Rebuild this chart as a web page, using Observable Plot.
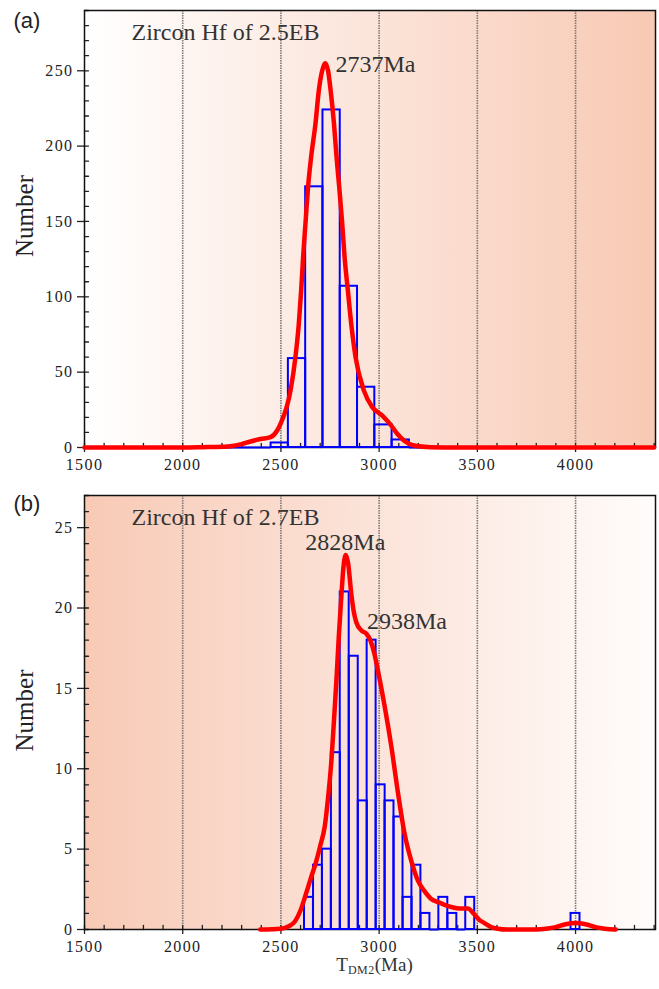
<!DOCTYPE html>
<html><head><meta charset="utf-8">
<script src="https://cdn.jsdelivr.net/npm/d3@7"></script>
<script src="https://cdn.jsdelivr.net/npm/@observablehq/plot@0.6"></script>
<style>
body{margin:0;background:#fff;}
#wrap{position:relative;width:659px;height:989px;overflow:hidden;background:#fff;}
#wrap svg{display:block;position:absolute;left:0;}
g[aria-label="x-axis tick label"] text, g[aria-label="y-axis tick label"] text{letter-spacing:1.4px;}
g[aria-label="anno"] text{letter-spacing:0.6px;}
g[aria-label="ylab"] text{letter-spacing:2px;}
#xlab{position:absolute;left:84px;width:571px;top:954px;padding-left:10px;box-sizing:border-box;text-align:center;
  font-family:"Liberation Serif",serif;font-size:19px;line-height:22px;color:#333;}
#xlab sub{font-size:12px;vertical-align:baseline;position:relative;top:3px;letter-spacing:0.5px;}
</style>
</head><body>
<div id="wrap"><div id="xlab">T<sub>DM2</sub>(Ma)</div></div>
<script>
// ---------- data ----------
const xTicks = [1500, 2000, 2500, 3000, 3500, 4000];
const gridLines = [2000, 2500, 3000, 3500, 4000];

// Panel (a): Zircon Hf of 2.5EB
const titleA = "Zircon Hf of 2.5EB";
const binWidthA = 88;
const binLoA = [2186, 2274, 2362, 2450, 2538, 2626, 2714, 2802, 2890, 2978, 3066, 3154];
const countA = [0, 0, 0, 3, 59, 173, 224, 107, 40, 15, 5, 0];
const curveAx = [1500, 1800, 2000, 2100, 2200, 2243, 2300, 2345, 2396, 2447, 2481, 2498, 2549, 2574, 2591, 2603, 2613, 2625, 2637, 2654, 2676, 2693, 2710, 2725, 2740, 2753, 2770, 2783, 2798, 2812, 2824, 2841, 2858, 2880, 2922, 2965, 3016, 3055, 3092, 3126, 3177, 3262, 3400, 4000, 4400];
const curveAy = [0, 0, 0, 0.2, 0.5, 0.8, 2.2, 4.0, 5.6, 6.9, 11.3, 15.7, 37.9, 60, 82, 104, 126.5, 148.7, 171, 193, 215, 237, 250, 255, 250, 237, 215, 193, 171, 148.7, 126.5, 104, 82, 60, 37.9, 26.8, 21.2, 15.7, 9.1, 4.7, 1.3, 0.2, 0, 0, 0];
const peaksA = [{age: 2737, n: 255, label: "2737Ma"}];

// Panel (b): Zircon Hf of 2.7EB
const titleB = "Zircon Hf of 2.7EB";
const binWidthB = 45.6;
const binLoB = [2620, 2666, 2711, 2757, 2802, 2848, 2894, 2939, 2985, 3030, 3076, 3122, 3167, 3213, 3258, 3304, 3350, 3395, 3441, 3977];
const countB = [2, 4, 5, 11, 21, 17, 8, 18, 9, 8, 7, 2, 4, 1, 0, 2, 1, 0, 2, 1];
const curveBx = [2395, 2500, 2540, 2571, 2600, 2622, 2650, 2681, 2700, 2723, 2740, 2757, 2770, 2783, 2795, 2808, 2818, 2830, 2842, 2859, 2872, 2884, 2910, 2935, 2955, 2975, 2994, 3028, 3062, 3096, 3129, 3163, 3197, 3230, 3265, 3300, 3330, 3367, 3410, 3452, 3480, 3510, 3536, 3570, 3604, 3650, 3800, 3850, 3900, 3950, 4000, 4050, 4100, 4150, 4205];
const curveBy = [0, 0.05, 0.2, 0.5, 1.2, 2, 3.1, 4.3, 5.2, 6.4, 8.2, 10.5, 13, 15.6, 18.3, 20.8, 22.5, 23.3, 22.8, 20.8, 19.7, 19.1, 18.6, 18.4, 18.0, 17.2, 16.1, 13.9, 11.4, 8.5, 6.0, 4.3, 3.05, 2.4, 1.9, 1.7, 1.55, 1.4, 1.3, 1.3, 1.0, 0.6, 0.4, 0.15, 0.05, 0, 0, 0.05, 0.15, 0.33, 0.4, 0.33, 0.15, 0.05, 0];
const peaksB = [{age: 2828, n: 23.3, label: "2828Ma"}, {age: 2938, n: 18.4, label: "2938Ma"}];

// ---------- build tables ----------
const binsA = binLoA.map((lo, i) => ({lo, hi: lo + binWidthA, count: countA[i]}));
const binsB = binLoB.map((lo, i) => ({lo, hi: lo + binWidthB, count: countB[i]}));
const curveA = curveAx.map((t, i) => ({t, n: curveAy[i]}));
const curveB = curveBx.map((t, i) => ({t, n: curveBy[i]}));

const tickShape = {draw(context, l) { context.moveTo(0, 0); context.lineTo(0, -l); }};
const xMinor = d3.range(1500, 4401, 100);

function addGradient(svg, id, c0, c1) {
  const ns = "http://www.w3.org/2000/svg";
  const defs = document.createElementNS(ns, "defs");
  const lg = document.createElementNS(ns, "linearGradient");
  lg.setAttribute("id", id);
  lg.setAttribute("x1", "0"); lg.setAttribute("y1", "0");
  lg.setAttribute("x2", "1"); lg.setAttribute("y2", "0");
  [[0, c0], [1, c1]].forEach(([o, c]) => {
    const s = document.createElementNS(ns, "stop");
    s.setAttribute("offset", o); s.setAttribute("stop-color", c);
    lg.appendChild(s);
  });
  defs.appendChild(lg);
  svg.insertBefore(defs, svg.firstChild);
}

function panel({bins, curve, yMax, yTicks, yMinor, gradId, c0, c1, title, tag, tagDy, nameDy, height, marginTop, marginBottom, peakMarks}) {
  const svg = Plot.plot({
    width: 659, height, marginLeft: 84, marginRight: 4, marginTop, marginBottom,
    style: {fontFamily: "'Liberation Serif', serif", fontSize: "16px", color: "#222", background: "transparent"},
    x: {domain: [1500, 4407]},
    y: {domain: [0, yMax]},
    marks: [
      Plot.frame({fill: `url(#${gradId})`}),
      Plot.ruleX(gridLines, {stroke: "#7a7a7a", strokeWidth: 1.6, strokeDasharray: "1.5,1"}),
      Plot.axisY({ticks: yTicks, tickSize: 7, tickPadding: 4, label: null, strokeWidth: 1.3}),
      Plot.axisX({ticks: xTicks, tickSize: 5, tickPadding: 6, label: null, tickFormat: "d", strokeWidth: 1.3}),
      Plot.vector(yMinor, {y: d => d, frameAnchor: "left", rotate: 90, length: 4, anchor: "start", shape: tickShape, stroke: "#222", strokeWidth: 1.3}),
      Plot.vector(xMinor, {x: d => d, frameAnchor: "bottom", rotate: 0, length: 4, anchor: "start", shape: tickShape, stroke: "#222", strokeWidth: 1.3}),
      Plot.frame({stroke: "#111", strokeWidth: 1.5}),
      Plot.rectY(bins.filter(d => d.count > 0), {x1: "lo", x2: "hi", y: "count", fill: "none", stroke: "#0000ff", strokeWidth: 2}),
      Plot.ruleY(bins.filter(d => d.count === 0), {y: () => 0, x1: "lo", x2: "hi", stroke: "#0000ff", strokeWidth: 2}),
      Plot.line(curve, {x: "t", y: "n", stroke: "#ff0000", strokeWidth: 4.5, curve: "monotone-x"}),
      Plot.text([title], {frameAnchor: "top-left", dx: 47, dy: 29, lineAnchor: "bottom", textAnchor: "start", fontSize: 24, fill: "#333", ariaLabel: "anno"}),
      ...peakMarks,
      Plot.text([tag], {frameAnchor: "top-left", dx: -71, dy: tagDy, lineAnchor: "bottom", textAnchor: "start", fontFamily: "'Liberation Sans', sans-serif", fontSize: 22, fill: "#222"}),
      Plot.text(["Number"], {frameAnchor: "left", dx: -60, dy: nameDy, rotate: -90, textAnchor: "middle", lineAnchor: "middle", fontSize: 25, fill: "#222", ariaLabel: "ylab"})
    ]
  });
  addGradient(svg, gradId, c0, c1);
  return svg;
}

const svgA = panel({
  bins: binsA, curve: curveA, yMax: 290,
  yTicks: [0, 50, 100, 150, 200, 250], yMinor: d3.range(0, 291, 10),
  gradId: "gradA", c0: "#ffffff", c1: "#f8c9b4",
  title: titleA, tag: "(a)", tagDy: 17, nameDy: -13,
  height: 475, marginTop: 10, marginBottom: 28,
  peakMarks: [
    Plot.text(peaksA, {x: "age", y: "n", text: "label", dx: 8, dy: 9, textAnchor: "start", lineAnchor: "bottom", fontSize: 24, fill: "#333", ariaLabel: "anno"})
  ]
});
svgA.style.top = "0px";

const svgB = panel({
  bins: binsB, curve: curveB, yMax: 27,
  yTicks: [0, 5, 10, 15, 20, 25], yMinor: d3.range(0, 28, 1),
  gradId: "gradB", c0: "#f8cab6", c1: "#fffcfb",
  title: titleB, tag: "(b)", tagDy: 15, nameDy: -2,
  height: 480, marginTop: 20, marginBottom: 26,
  peakMarks: [
    Plot.text([peaksB[0]], {x: "age", y: "n", text: "label", dy: -5, textAnchor: "middle", lineAnchor: "bottom", fontSize: 24, fill: "#333", ariaLabel: "anno"}),
    Plot.text([peaksB[1]], {x: "age", y: "n", text: "label", dy: -5, textAnchor: "start", lineAnchor: "bottom", fontSize: 24, fill: "#333", ariaLabel: "anno"})
  ]
});
svgB.style.top = "475px";

const wrap = document.getElementById("wrap");
wrap.insertBefore(svgB, wrap.firstChild);
wrap.insertBefore(svgA, wrap.firstChild);
</script>
</body></html>
